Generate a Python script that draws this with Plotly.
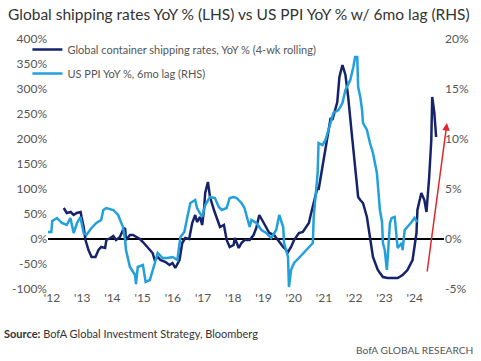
import plotly.graph_objects as go

# Time in decimal years
ppi_t = [2011.87, 2011.98, 2012.01, 2012.17, 2012.33, 2012.49, 2012.61, 2012.72, 2012.83, 2012.94,
         2013.05, 2013.14, 2013.31, 2013.47, 2013.63, 2013.70, 2013.80, 2014.03, 2014.19, 2014.35,
         2014.42, 2014.45, 2014.58, 2014.75, 2014.78, 2014.84, 2015.01, 2015.07, 2015.10, 2015.24,
         2015.40, 2015.50, 2015.66, 2015.82, 2015.99, 2016.15, 2016.25, 2016.38, 2016.48, 2016.58,
         2016.74, 2016.80, 2016.97, 2017.07, 2017.23, 2017.39, 2017.52, 2017.62, 2017.78, 2017.88,
         2018.01, 2018.11, 2018.27, 2018.37, 2018.54, 2018.60, 2018.76, 2018.93, 2019.09, 2019.25,
         2019.42, 2019.52, 2019.65, 2019.68, 2019.81, 2019.84, 2019.91, 2020.01, 2020.17, 2020.33,
         2020.50, 2020.63, 2020.66, 2020.73, 2020.79, 2020.82, 2020.95, 2021.05, 2021.15, 2021.31,
         2021.48, 2021.61, 2021.71, 2021.87, 2021.97, 2022.03, 2022.10, 2022.13, 2022.20, 2022.26,
         2022.29, 2022.42, 2022.52, 2022.62, 2022.75, 2022.78, 2022.85, 2022.92, 2022.95, 2023.01,
         2023.08, 2023.11, 2023.18, 2023.24, 2023.34, 2023.41, 2023.44, 2023.57, 2023.60, 2023.67,
         2023.76, 2023.90, 2023.99, 2024.09]
ppi_yoy = [0.7, 0.7, 1.8, 2.1, 1.6, 1.4, 2.1, 0.6, 1.6, 2.2,
           0.6, 0.4, 1.1, 1.6, 1.9, 2.9, 3.1, 2.9, 2.4, 1.2,
           -0.1, -1.1, -2.8, -3.6, -4.5, -2.8, -2.6, -3.8, -4.3, -4.1,
           -2.4, -1.4, -1.9, -1.9, -1.8, -2.1, 0.2, 0.7, 2.2, 3.6,
           3.9, 3.1, 2.2, 3.4, 4.2, 4.1, 3.2, 2.9, 3.1, 4.1,
           4.2, 4.1, 3.6, 3.1, 1.2, 1.9, 1.6, 0.9, 0.6, 0.1,
           0.9, 2.4, 1.2, -0.4, -1.8, -4.8, -3.1, -2.4, -1.9, -1.4,
           -0.9, -0.4, 2.2, 4.2, 6.6, 9.6, 9.4, 9.9, 10.9, 12.6,
           12.9, 13.6, 14.9, 15.9, 17.2, 18.2, 18.2, 15.2, 14.2, 12.9,
           11.6, 10.9, 9.6, 8.6, 6.6, 5.2, 2.9, 1.7, -0.4, -1.1,
           -3.1, -1.8, 1.6, 2.1, 2.2, -0.1, -0.9, -0.4, -1.1, 0.9,
           1.2, 1.7, 2.1, 1.7]

ship_t = [2012.39, 2012.49, 2012.62, 2012.72, 2012.82, 2012.95, 2012.98, 2013.05, 2013.11, 2013.21,
          2013.31, 2013.44, 2013.54, 2013.63, 2013.76, 2013.80, 2013.93, 2014.03, 2014.12, 2014.25,
          2014.35, 2014.42, 2014.45, 2014.58, 2014.68, 2014.78, 2014.91, 2015.01, 2015.10, 2015.24,
          2015.33, 2015.40, 2015.50, 2015.59, 2015.76, 2015.89, 2015.99, 2016.08, 2016.22, 2016.31,
          2016.41, 2016.54, 2016.64, 2016.74, 2016.80, 2016.90, 2016.97, 2017.03, 2017.07, 2017.16,
          2017.23, 2017.36, 2017.46, 2017.56, 2017.69, 2017.78, 2017.88, 2018.01, 2018.05, 2018.18,
          2018.27, 2018.37, 2018.54, 2018.67, 2018.76, 2018.86, 2018.99, 2019.09, 2019.19, 2019.35,
          2019.52, 2019.65, 2019.81, 2019.91, 2020.01, 2020.17, 2020.30, 2020.40, 2020.50, 2020.56,
          2020.66, 2020.79, 2020.82, 2020.89, 2020.99, 2021.12, 2021.22, 2021.28, 2021.38, 2021.44,
          2021.51, 2021.61, 2021.71, 2021.80, 2021.93, 2022.03, 2022.13, 2022.20, 2022.29, 2022.42,
          2022.52, 2022.62, 2022.78, 2022.95, 2023.11, 2023.27, 2023.44, 2023.60, 2023.76, 2023.93,
          2024.06, 2024.09, 2024.22, 2024.32, 2024.39, 2024.48, 2024.55, 2024.58, 2024.65, 2024.71]
ship_yoy = [62, 52, 54, 48, 52, 54, 44, 24, -2, -22,
            -36, -36, -22, -16, -18, -2, 2, 6, -2, 4,
            18, 22, -2, 8, 8, 4, 0, -6, -12, -22,
            -28, -42, -36, -42, -46, -52, -48, -58, -42, -8,
            2, 0, 32, 48, 34, 44, 28, 58, 92, 114,
            84, 58, 42, 24, 28, -2, -16, -12, 2, -18,
            -8, -2, -2, 8, 22, 48, 34, 24, 12, 8,
            -6, -16, -26, -16, -2, 12, 14, 22, 32, 48,
            72, 104, 98, 124, 164, 204, 242, 238, 258, 274,
            324, 348, 328, 284, 204, 138, 84, 78, 72, 44,
            4, -36, -62, -76, -78, -78, -78, -72, -62, -42,
            12, 58, 92, 78, 54, 124, 198, 284, 252, 204]

year_ticks = list(range(2012, 2025))
year_labels = ["'" + str(y)[2:] for y in year_ticks]
lhs_ticks = list(range(-100, 401, 50))
rhs_ticks = list(range(-5, 21, 5))

NAVY = "#16236b"
LIGHT = "#21a0dc"
GRAY = "#555555"
FONT = "Lato"

fig = go.Figure()
fig.add_trace(go.Scatter(x=ship_t, y=ship_yoy, mode="lines",
                         name="Global container shipping rates, YoY % (4-wk rolling)",
                         line=dict(color=NAVY, width=2.5), legendgroup="a"))
fig.add_trace(go.Scatter(x=ppi_t, y=ppi_yoy, mode="lines", yaxis="y2",
                         name="US PPI YoY %, 6mo lag (RHS)",
                         line=dict(color=LIGHT, width=2.5), legendgroup="b"))

fig.update_layout(
    width=481, height=361,
    margin=dict(l=44, r=36, t=39, b=72),
    paper_bgcolor="white", plot_bgcolor="white",
    font=dict(family=FONT, size=12, color=GRAY),
    showlegend=True,
    legend=dict(x=-0.052, y=1.016, xanchor="left", yanchor="top",
                bgcolor="rgba(0,0,0,0)", font=dict(size=11, color=GRAY),
                tracegroupgap=5, itemwidth=30),
    xaxis=dict(range=[2011.87, 2024.97], tickvals=year_ticks, ticktext=year_labels,
               showgrid=False, zeroline=False, showline=False, ticks=""),
    yaxis=dict(range=[-100, 400], tickvals=lhs_ticks,
               ticktext=[f"{v}%" for v in lhs_ticks], showgrid=False,
               zeroline=True, zerolinecolor="black", zerolinewidth=1.5, ticks=""),
    yaxis2=dict(range=[-5, 20], tickvals=rhs_ticks,
                ticktext=[f"{v}%" for v in rhs_ticks], overlaying="y", side="right",
                showgrid=False, zeroline=False, ticks=""),
)

fig.add_annotation(xref="paper", yref="paper", x=-0.107, y=1.0 + 25/250, xanchor="left",
                   yanchor="middle", showarrow=False,
                   text="Global shipping rates YoY % (LHS) vs US PPI YoY % w/ 6mo lag (RHS)",
                   font=dict(family=FONT, size=15.5, color="#333333"))
fig.add_annotation(xref="paper", yref="paper", x=-0.115, y=-44/250, xanchor="left",
                   yanchor="middle", showarrow=False,
                   text="<b>Source:</b> BofA Global Investment Strategy, Bloomberg",
                   font=dict(family=FONT, size=11, color="#333333"))
fig.add_annotation(xref="paper", yref="paper", x=1.0 + 31/401, y=-61/250, xanchor="right",
                   yanchor="middle", showarrow=False, text="BofA GLOBAL RESEARCH",
                   font=dict(family=FONT, size=10.2, color=GRAY))
# red arrow
fig.add_annotation(xref="paper", yref="y", x=1.0075, y=232, ax=-20, ay=150,
                   showarrow=True, arrowhead=2, arrowsize=1, arrowwidth=1.5,
                   arrowcolor="#e3262b", text="")

fig.write_html("out.html", config={"displayModeBar": False},
               post_script="document.body.style.margin='0';document.body.style.overflow='hidden';")
